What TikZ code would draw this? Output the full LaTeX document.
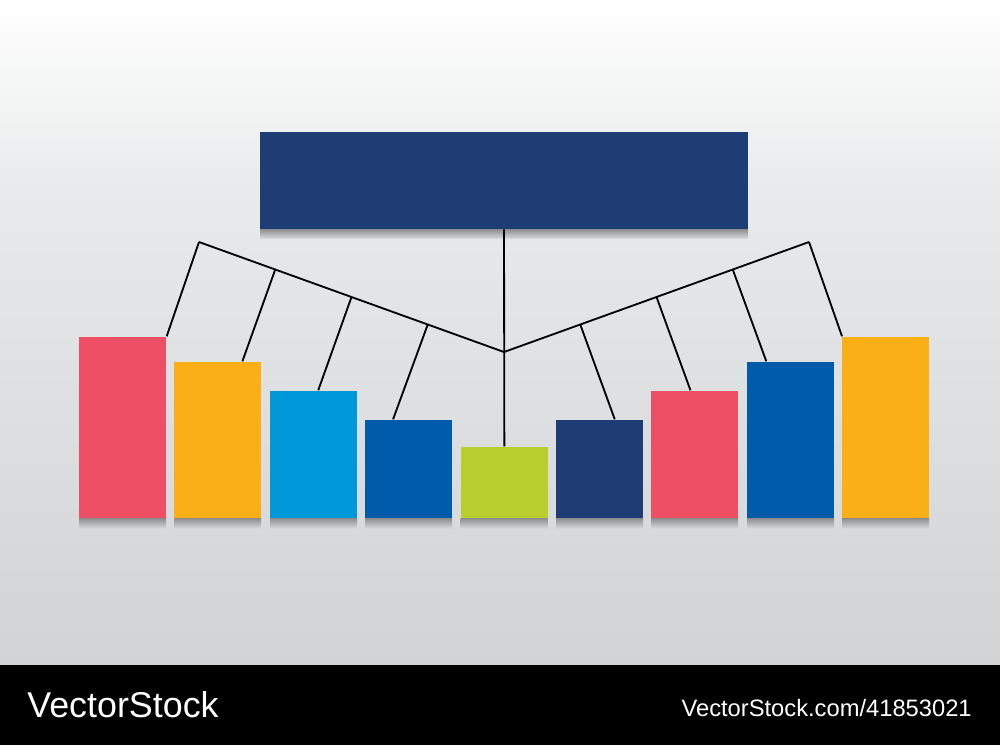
\documentclass[tikz,border=0pt]{standalone}
\usepackage{fontspec}
\setmainfont{Liberation Sans}
\usetikzlibrary{calc}

\definecolor{navy}{HTML}{1E3D74}
\definecolor{rosered}{HTML}{EF4F64}
\definecolor{amber}{HTML}{FBAF17}
\definecolor{skyblue}{HTML}{0098D8}
\definecolor{royal}{HTML}{005BAB}
\definecolor{lime}{HTML}{B8CD2E}
\definecolor{bgmid}{HTML}{E8E9EA}
\definecolor{bgbot}{HTML}{D2D3D5}

\tikzset{
  bar/.style={fill=#1, anchor=south west, inner sep=0pt, minimum width=1.74cm},
  link/.style={black, line width=1.05pt},
  shadowstrip/.style={top color=black!45, bottom color=bgbot!95!white}
}

\begin{document}
\begin{tikzpicture}[x=0.02cm,y=-0.02cm]
		\useasboundingbox (0,0) rectangle (1000,745);
		% background
		\shade[top color=white, bottom color=bgmid] (0,0) rectangle (1000,200);
		\shade[top color=bgmid, bottom color=bgbot] (0,200) rectangle (1000,665);
		\fill[black] (0,665) rectangle (1000,745);
		
		% main box
		\shade[shadowstrip] (260,229) rectangle (748,238);
		\node[fill=navy, inner sep=0pt, minimum width=9.76cm, minimum height=1.94cm] (top) at (504,180.5) {};
		
		% bars
		\foreach \i/\x/\t/\c in {1/79/337/rosered, 2/174/362/amber, 3/270/391/skyblue,
				4/365/420/royal, 5/460.5/447/lime, 6/556/420/navy, 7/651/391/rosered,
				8/747/362/royal, 9/842/337/amber}{
			\shade[shadowstrip] (\x,518) rectangle ++(87,10);
			\node[bar=\c, minimum height={(518-\t)*0.02cm}] (b\i) at (\x,518) {};
		}
		
		% tree lines
		\coordinate (v) at (504,352);
		\coordinate (j1) at (199,242);
		\coordinate (j8) at (809,242);
		\coordinate (j2) at ($(j1)!0.25!(v)$);
		\coordinate (j3) at ($(j1)!0.5!(v)$);
		\coordinate (j4) at ($(j1)!0.75!(v)$);
		\coordinate (j5) at ($(j8)!0.75!(v)$);
		\coordinate (j6) at ($(j8)!0.5!(v)$);
		\coordinate (j7) at ($(j8)!0.25!(v)$);
		\draw[link] (top.south) -- (b5.north);
		\draw[link] (j1) -- (v) -- (j8);
		\draw[link] (j1) -- (b1.north east);
		\draw[link] (j2) -- ($(b2.north west)!0.78!(b2.north east)$);
		\draw[link] (j3) -- ($(b3.north west)!0.55!(b3.north east)$);
		\draw[link] (j4) -- ($(b4.north west)!0.32!(b4.north east)$);
		\draw[link] (j5) -- ($(b6.north west)!0.67!(b6.north east)$);
		\draw[link] (j6) -- ($(b7.north west)!0.45!(b7.north east)$);
		\draw[link] (j7) -- ($(b8.north west)!0.22!(b8.north east)$);
		\draw[link] (j8) -- (b9.north west);
		
		% watermark
		\node[anchor=base west, inner sep=0pt, text=white, font=\fontsize{20.4}{24}\selectfont] (logo) at (27,717) {VectorStock};
		\node[anchor=base east, inner sep=0pt, text=white, font=\fontsize{13.5}{16}\selectfont] (ref) at (972,716) {VectorStock.com/41853021};
	\end{tikzpicture}
\end{document}
